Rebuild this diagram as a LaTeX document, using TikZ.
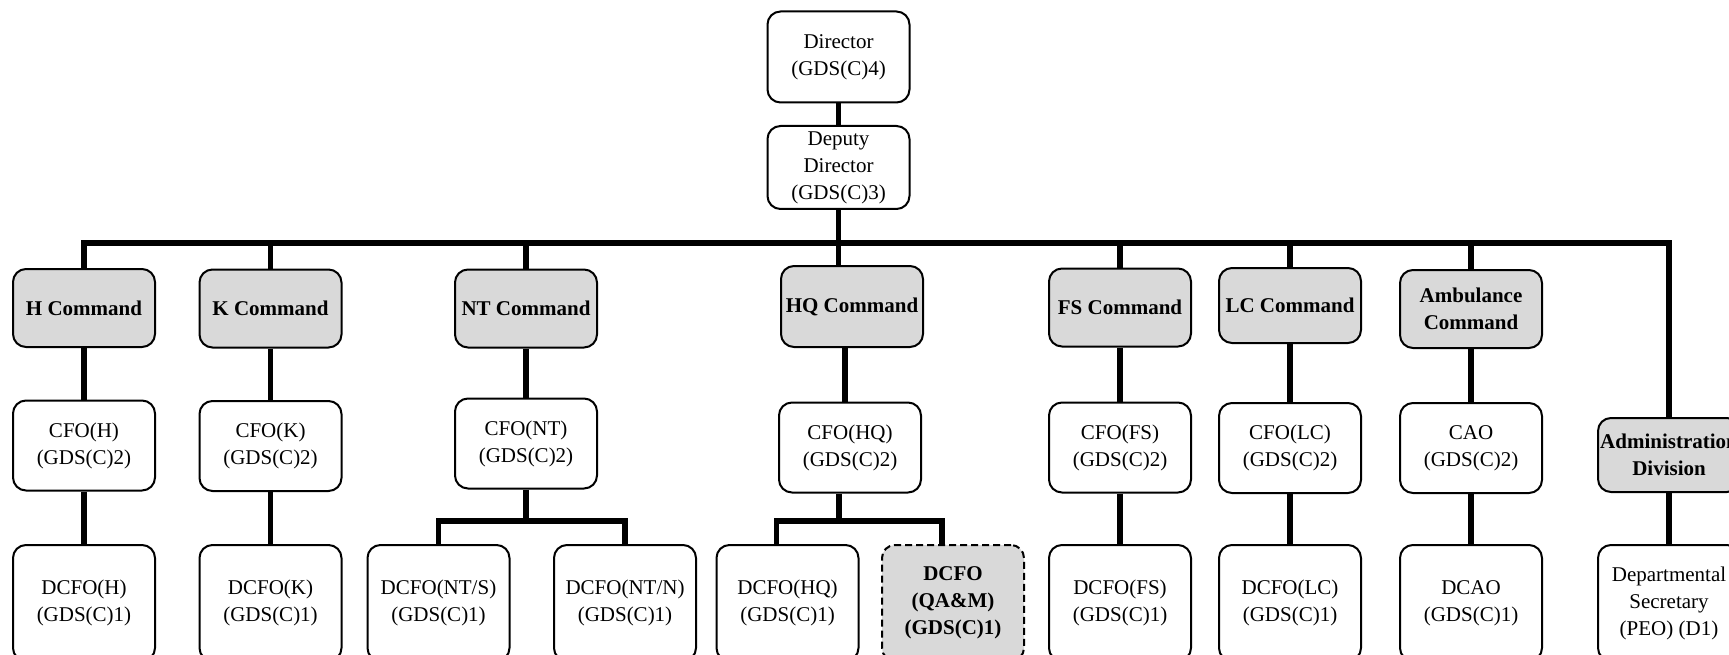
\documentclass[tikz,border=0pt]{standalone}
\usepackage{fontspec}
\setmainfont{Liberation Serif}
\definecolor{boxgray}{HTML}{D9D9D9}
\tikzset{post/.style={draw, line width=2pt, rounded corners=13pt, align=center, inner sep=0pt,
                      minimum width=142pt, font=\fontsize{21}{27}\selectfont},
         command/.style={post, fill=boxgray, minimum height=78pt, font=\fontsize{21}{27}\selectfont\bfseries},
         chief/.style={post, minimum height=90pt},
         deputy/.style={post, minimum height=116pt},
         link/.style={line width=5.5pt, line join=miter}}

\begin{document}
\begin{tikzpicture}[x=1pt,y=-1pt] % pixel grid, y runs down
\useasboundingbox (0,0) rectangle (1729,655);
\clip (0,0) rectangle (1729,655);
             % top of the tree
             \node[post, minimum height=91pt] (dir) at (838.5,57) {Director\\(GDS(C)4)};
             \node[post, minimum height=83pt] (dep) at (838.5,167.5) {Deputy\\Director\\(GDS(C)3)};
             \coordinate (bus) at (838.5,243);

             % the commands
             \node[command] (hcmd) at (84,308) {H Command};
             \node[command] (kcmd) at (270.5,308.5) {K Command};
             \node[command] (ntcmd) at (526,308.5) {NT Command};
             \node[command, minimum height=81pt] (hqcmd) at (852,306.5) {HQ Command};
             \node[command] (fscmd) at (1120,307.5) {FS Command};
             \node[command, minimum height=75pt] (lccmd) at (1290,305.5) {LC Command};
             \node[command] (ambcmd) at (1471,309) {Ambulance\\Command};
             \node[command, minimum height=74pt] (admin) at (1669,455) {Administration\\Division};

             % chief officers
             \node[chief] (cfoh) at (84,445.5) {CFO(H)\\(GDS(C)2)};
             \node[chief] (cfok) at (270.5,446) {CFO(K)\\(GDS(C)2)};
             \node[chief] (cfont) at (526,443.5) {CFO(NT)\\(GDS(C)2)};
             \node[chief] (cfohq) at (850,447.5) {CFO(HQ)\\(GDS(C)2)};
             \node[chief] (cfofs) at (1120,447.5) {CFO(FS)\\(GDS(C)2)};
             \node[chief] (cfolc) at (1290,448) {CFO(LC)\\(GDS(C)2)};
             \node[chief] (cao) at (1471,448) {CAO\\(GDS(C)2)};

             % deputies
             \node[deputy] (dh) at (84,603) {DCFO(H)\\(GDS(C)1)};
             \node[deputy] (dk) at (270.5,603) {DCFO(K)\\(GDS(C)1)};
             \node[deputy] (dnts) at (438.5,603) {DCFO(NT/S)\\(GDS(C)1)};
             \node[deputy] (dntn) at (625,603) {DCFO(NT/N)\\(GDS(C)1)};
             \node[deputy] (dhq) at (787.5,603) {DCFO(HQ)\\(GDS(C)1)};
             \node[deputy, fill=boxgray, dash pattern=on 7pt off 4pt, font=\fontsize{21}{27}\selectfont\bfseries] (dqam) at (953,603) {DCFO\\(QA\&M)\\(GDS(C)1)};
             \node[deputy] (dfs) at (1120,603) {DCFO(FS)\\(GDS(C)1)};
             \node[deputy] (dlc) at (1290,603) {DCFO(LC)\\(GDS(C)1)};
             \node[deputy] (dcao) at (1471,603) {DCAO\\(GDS(C)1)};
             \node[deputy] (dsec) at (1669,603) {Departmental\\Secretary\\(PEO) (D1)};

             % connectors
             \draw[link] (dir) -- (dep);
             \draw[link] (dep.south) -- (dep.south |- hqcmd.north);
             \draw[link] (hcmd.north) |- (bus) -| (admin.north);
             \foreach \c in {kcmd,ntcmd,fscmd,lccmd,ambcmd}
                 \draw[link] (\c.north) -- (\c.north |- bus);
             \foreach \a/\b in {hcmd/cfoh,kcmd/cfok,ntcmd/cfont,fscmd/cfofs,lccmd/cfolc,ambcmd/cao,
                                cfoh/dh,cfok/dk,cfofs/dfs,cfolc/dlc,cao/dcao,admin/dsec}
                 \draw[link] (\a) -- (\b);
             \draw[link] ([xshift=-7pt]hqcmd.south) -- ([xshift=-5pt]cfohq.north);
             % the two forks
             \coordinate (ntfork) at (526,521);
             \draw[link] (cfont.south) -- (ntfork);
             \draw[link] (dnts.north) |- (ntfork) -| (dntn.north);
             \coordinate (hqfork) at (839,521);
             \draw[link] ([xshift=-11pt]cfohq.south) -- (hqfork);
             \draw[link] ([xshift=-11pt]dhq.north) |- (hqfork) -| ([xshift=-11pt]dqam.north);
\end{tikzpicture}
\end{document}
